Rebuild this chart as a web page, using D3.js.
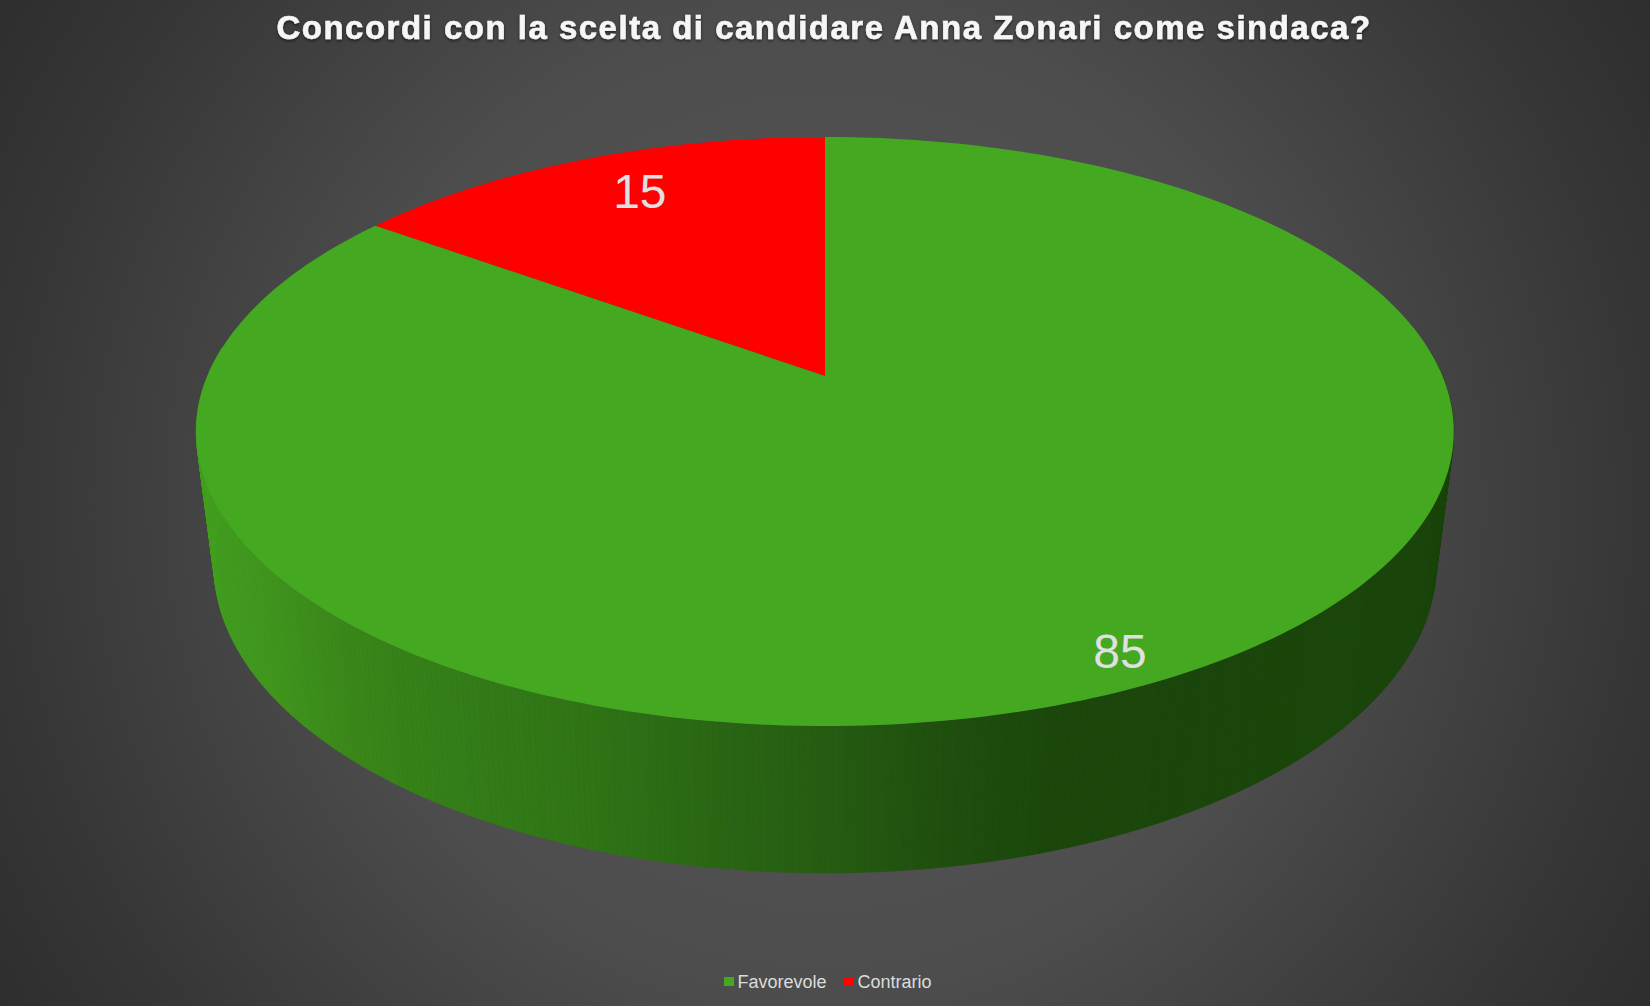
<!DOCTYPE html>
<html>
<head>
<meta charset="utf-8">
<script src="https://cdn.jsdelivr.net/npm/d3@7/dist/d3.min.js"></script>
<style>
html,body{margin:0;padding:0;background:#333;overflow:hidden}
svg{display:block}
text{font-family:"Liberation Sans",Arial,Helvetica,sans-serif}
</style>
</head>
<body>
<svg id="chart" width="1650" height="1006"></svg>
<script>
const titleText = "Concordi con la scelta di candidare Anna Zonari come sindaca?";
const categories = ["Contrario", "Favorevole"];
const values = [15, 85];
const sliceColors = ["#ff0000", "#44a821"];
const legendOrder = ["Favorevole", "Contrario"];

const W = 1650, H = 1006;
const svg = d3.select("#chart");
const defs = svg.append("defs");

const bg = defs.append("radialGradient").attr("id", "bg").attr("gradientUnits", "userSpaceOnUse")
  .attr("cx", 825).attr("cy", 503).attr("r", 965);
[[0, "#585858"], [0.5, "#4d4d4d"], [0.85, "#363636"], [1, "#2e2e2e"]].forEach(s =>
  bg.append("stop").attr("offset", s[0]).attr("stop-color", s[1]));
svg.append("rect").attr("width", W).attr("height", H).attr("fill", "url(#bg)");

const shadow = defs.append("filter").attr("id", "ts").attr("x", "-5%").attr("y", "-30%").attr("width", "110%").attr("height", "160%");
shadow.append("feDropShadow").attr("dx", 0).attr("dy", 1.5).attr("stdDeviation", 1.5)
  .attr("flood-color", "#000").attr("flood-opacity", 0.6);

// perspective projection of the unit disc (X right, Y towards the viewer)
const k = -0.1885, cx = 825;
const topFace = {a: 376, b: 213.2, c: 617.5};
const baseFace = {a: 506.9, b: 201.5, c: 600};
const project = (f, ang, r) => {
  const X = r * Math.sin(ang), Y = -r * Math.cos(ang), w = 1 + k * Y;
  return [cx + f.c * X / w, (f.a + f.b * Y) / w];
};

// slices start at -54deg (Contrario first), as the chart has them
const total = d3.sum(values);
const startAngle = -2 * Math.PI * values[0] / total;
const pie = d3.pie().sort(null).startAngle(startAngle).endAngle(startAngle + 2 * Math.PI);
const arcs = pie(values);

// side wall: thin bands on the visible front part, shaded by screen x
const sideX = [195, 250, 350, 450, 600, 730, 825, 950, 1050, 1460];
const sideC = ["#43a220", "#419a1e", "#3a8719", "#347e18", "#2f7315", "#296514", "#265c12", "#1f4e0e", "#1b470b", "#1a450a"];
const shade = d3.scaleLinear().domain(sideX).range(sideC).interpolate(d3.interpolateRgb);
const bandCount = 720;
const angleScale = d3.scaleLinear().domain([0, bandCount]).range([0, 2 * Math.PI]);
const bands = d3.range(bandCount)
  .filter(i => Math.cos(angleScale(i)) < 0.1)
  .map(i => {
    const a0 = angleScale(i), a1 = angleScale(i + 1);
    const pts = [project(topFace, a0, 1), project(topFace, a1, 1), project(baseFace, a1, 1), project(baseFace, a0, 1)];
    return {pts, x: d3.mean(pts, p => p[0]), y: d3.mean(pts, p => p[1])};
  }).sort((p, q) => p.y - q.y);
const poly = d3.line();
svg.append("g").selectAll("path").data(bands).join("path")
  .attr("d", d => poly(d.pts) + "Z")
  .attr("fill", d => shade(d.x))
  .attr("stroke", d => shade(d.x))
  .attr("stroke-width", 0.6);

// top face
const sliceOutline = d => {
  const n = Math.max(8, Math.round((d.endAngle - d.startAngle) * 180 / Math.PI));
  const rim = d3.range(n + 1).map(i => project(topFace, d.startAngle + (d.endAngle - d.startAngle) * i / n, 1));
  return poly([project(topFace, 0, 0), ...rim]) + "Z";
};
svg.append("g").selectAll("path").data(arcs).join("path")
  .attr("d", sliceOutline)
  .attr("fill", (d, i) => sliceColors[i]);

// value labels
const labelRadius = [0.825, 0.92];
const labelNudge = [18, -10];
const labelLift = [15, 17];
svg.append("g").selectAll("text").data(arcs).join("text")
  .attr("x", (d, i) => project(topFace, (d.startAngle + d.endAngle) / 2, labelRadius[i])[0] + labelNudge[i])
  .attr("y", (d, i) => project(topFace, (d.startAngle + d.endAngle) / 2, labelRadius[i])[1] + labelLift[i])
  .attr("text-anchor", "middle")
  .attr("font-size", 48)
  .attr("fill", "#e0e0e0")
  .text(d => d.value);

// title
svg.append("text")
  .attr("x", 824).attr("y", 39)
  .attr("text-anchor", "middle")
  .attr("font-size", 33)
  .attr("font-weight", 700)
  .attr("letter-spacing", 1.5)
  .attr("fill", "#f6f6f6")
  .attr("stroke", "#f6f6f6")
  .attr("stroke-width", 0.6)
  .attr("filter", "url(#ts)")
  .text(titleText);

// legend
const legendPos = d3.scalePoint().domain(legendOrder).range([724, 844]);
const legend = svg.append("g").selectAll("g").data(legendOrder).join("g")
  .attr("transform", d => `translate(${legendPos(d)},977)`);
legend.append("rect").attr("width", 10).attr("height", 9)
  .attr("fill", d => sliceColors[categories.indexOf(d)]);
legend.append("text").attr("x", 13.5).attr("y", 11)
  .attr("font-size", 18).attr("fill", "#dcdcdc")
  .text(d => d);
</script>
</body>
</html>
